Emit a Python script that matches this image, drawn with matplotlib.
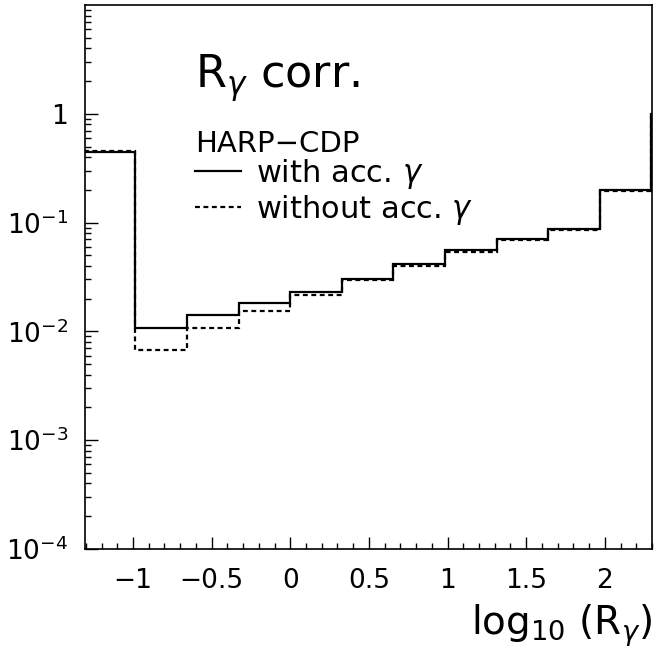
import numpy as np
import matplotlib.pyplot as plt
from matplotlib.ticker import FixedLocator, FixedFormatter, MultipleLocator

plt.rcParams['font.family'] = ['DejaVu Sans']
plt.rcParams['mathtext.fontset'] = 'dejavusans'
plt.rcParams['mathtext.default'] = 'regular'

# bin edges in log10(R_gamma); last bin lies just past the right frame
bin_edges = [-1.312, -0.984, -0.656, -0.328, 0.0, 0.328, 0.656, 0.984,
             1.312, 1.640, 1.968, 2.296, 2.624]
with_acc = [0.45, 0.0108, 0.0141, 0.0181, 0.0231, 0.0306, 0.0414, 0.0557,
            0.0713, 0.0867, 0.198, 1.0]
without_acc = [0.455, 0.0067, 0.0108, 0.0155, 0.0215, 0.0294, 0.0400, 0.0537,
               0.0687, 0.0850, 0.197, 1.0]

xticks = [-1, -0.5, 0, 0.5, 1, 1.5, 2]
xticklabels = ['\u22121', '\u22120.5', '0', '0.5', '1', '1.5', '2']
yticks = [1e-4, 1e-3, 1e-2, 1e-1, 1]
yticklabels = ['$10^{\u22124}$', '$10^{\u22123}$', '$10^{\u22122}$', '$10^{\u22121}$', '1']

fig = plt.figure(figsize=(6.54, 6.58), dpi=100)
ax = fig.add_axes([85 / 654, 1 - 549 / 658, 567 / 654, 544 / 658])

ax.stairs(with_acc, bin_edges, baseline=None, color='black', lw=1.6,
          label='with acc. $\\mathit{\u03b3}$')
ax.stairs(without_acc, bin_edges, baseline=None, color='black', lw=1.6,
          linestyle=(0, (2.2, 1.6)), label='without acc. $\\mathit{\u03b3}$')

ax.set_yscale('log')
ax.set_xlim(-1.305, 2.30)
ax.set_ylim(1e-4, 10)

ax.xaxis.set_major_locator(FixedLocator(xticks))
ax.xaxis.set_major_formatter(FixedFormatter(xticklabels))
ax.xaxis.set_minor_locator(MultipleLocator(0.1))
ax.yaxis.set_major_locator(FixedLocator(yticks))
ax.yaxis.set_major_formatter(FixedFormatter(yticklabels))

ax.tick_params(which='both', direction='in', top=False, right=False,
               labelsize=19, width=1.0)
ax.tick_params(which='major', length=9)
ax.tick_params(which='minor', length=4.5)
ax.tick_params(axis='x', pad=14)
ax.tick_params(axis='y', pad=12)
for s in ax.spines.values():
    s.set_linewidth(1.2)

ax.set_xlabel('log$_{10}$ (R$_{\\mathit{\u03b3}}$)', fontsize=28, loc='right', labelpad=6)

fig.text(195 / 654, 1 - 88 / 658, 'R$_{\\mathit{\u03b3}}$ corr.', fontsize=32)
fig.text(195 / 654, 1 - 152 / 658, 'HARP\u2212CDP', fontsize=21)
ax.legend(loc='upper left', bbox_to_anchor=(195 / 654, 1 - 157 / 658),
          bbox_transform=fig.transFigure, frameon=False, fontsize=22,
          handlelength=1.5, handletextpad=0.5, labelspacing=0.05,
          borderaxespad=0, borderpad=0)

fig.savefig('out.png', dpi=100)
